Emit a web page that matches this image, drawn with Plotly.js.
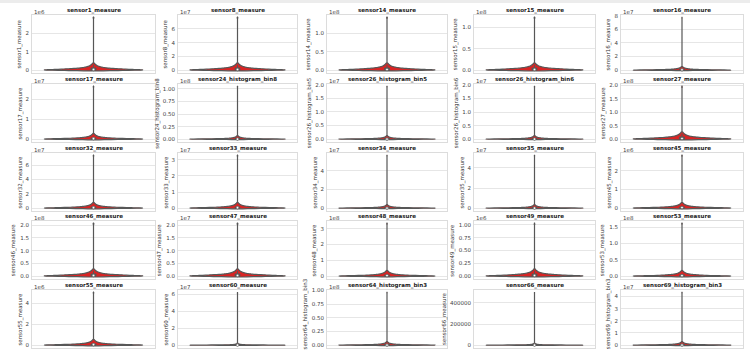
<!DOCTYPE html>
<html><head><meta charset="utf-8">
<script src="https://cdn.plot.ly/plotly-3.0.1.min.js"></script>
<style>html,body{margin:0;padding:0;background:#fff}#chart{width:750px;height:353px}</style>
</head><body><div id="chart"></div>
<script>
// ---------- data (values in units of 10^offsetExponent) ----------
const sensorNames = ['sensor1_measure','sensor8_measure','sensor14_measure','sensor15_measure','sensor16_measure',
  'sensor17_measure','sensor24_histogram_bin8','sensor26_histogram_bin5','sensor26_histogram_bin6','sensor27_measure',
  'sensor32_measure','sensor33_measure','sensor34_measure','sensor35_measure','sensor45_measure',
  'sensor46_measure','sensor47_measure','sensor48_measure','sensor49_measure','sensor53_measure',
  'sensor55_measure','sensor60_measure','sensor64_histogram_bin3','sensor66_measure','sensor69_histogram_bin3'];
const offsetExponents = [6,7,8,8,7, 7,8,7,7,8, 7,7,7,7,6, 8,7,8,6,8, 6,7,8,0,7];
const tickLabels = [
  ['0','1','2'],['0','2','4','6'],['0.0','0.5','1.0'],['0.0','0.5','1.0'],['0','2','4','6','8'],
  ['0','1','2'],['0.00','0.25','0.50','0.75','1.00'],['0.0','0.5','1.0','1.5','2.0'],['0.0','0.5','1.0','1.5','2.0'],['0.0','0.5','1.0','1.5','2.0'],
  ['0','2','4','6'],['0','1','2','3'],['0','2','4'],['0','2','4'],['0','1','2'],
  ['0.0','0.5','1.0','1.5','2.0'],['0.0','0.5','1.0','1.5','2.0'],['0','1','2','3'],['0.00','0.25','0.50','0.75','1.00'],['0.0','0.5','1.0','1.5'],
  ['0','2','4'],['0','2','4','6'],['0.00','0.25','0.50','0.75','1.00'],['0','200000','400000'],['0','1','2','3','4']
];
const maxReadings = [2.82,7.6,1.42,1.22,7.7, 2.62,1.04,1.92,1.93,1.95, 7.3,3.25,5.6,5.2,2.8, 2.05,2.05,3.3,1.02,1.6, 5.0,6.2,0.955,495000,4.3];
const zeroCounts = [100,100,100,100,170, 140,220,220,220,100, 140,140,220,220,140, 100,100,140,100,140, 140,400,220,400,220];
const tailValues = [
  [0.034,0.071,0.113,0.155,0.197,0.24,0.282,0.324,0.367],
  [0.091,0.19,0.304,0.418,0.532,0.646,0.76,0.874,0.988],
  [0.017,0.036,0.057,0.078,0.099,0.121,0.142,0.163,0.185],
  [0.015,0.031,0.049,0.067,0.085,0.104,0.122,0.14,0.159],
  [0.046,0.096,0.154,0.212,0.27,0.327,0.385,0.443,0.5],
  [0.025,0.052,0.084,0.115,0.147,0.178,0.21,0.241,0.272],
  [0.0062,0.013,0.021,0.029,0.036,0.044,0.052,0.06,0.068],
  [0.0115,0.024,0.038,0.053,0.067,0.082,0.096,0.11,0.125],
  [0.0116,0.024,0.039,0.053,0.068,0.082,0.097,0.111,0.125],
  [0.023,0.049,0.078,0.107,0.137,0.166,0.195,0.224,0.254],
  [0.07,0.146,0.234,0.321,0.409,0.496,0.584,0.672,0.759],
  [0.031,0.065,0.104,0.143,0.182,0.221,0.26,0.299,0.338],
  [0.034,0.07,0.112,0.154,0.196,0.238,0.28,0.322,0.364],
  [0.031,0.065,0.104,0.143,0.182,0.221,0.26,0.299,0.338],
  [0.027,0.056,0.09,0.123,0.157,0.19,0.224,0.258,0.291],
  [0.025,0.051,0.082,0.113,0.144,0.174,0.205,0.236,0.267],
  [0.025,0.051,0.082,0.113,0.144,0.174,0.205,0.236,0.267],
  [0.032,0.066,0.106,0.145,0.185,0.224,0.264,0.304,0.343],
  [0.012,0.026,0.041,0.056,0.071,0.087,0.102,0.117,0.133],
  [0.015,0.032,0.051,0.07,0.09,0.109,0.128,0.147,0.166],
  [0.048,0.1,0.16,0.22,0.28,0.34,0.4,0.46,0.52],
  [0.022,0.047,0.074,0.102,0.13,0.158,0.186,0.214,0.242],
  [0.0057,0.012,0.019,0.026,0.033,0.041,0.048,0.055,0.062],
  [1800,3700,5900,8200,10400,12600,14900,17100,19300],
  [0.026,0.054,0.086,0.118,0.151,0.183,0.215,0.247,0.28]
];
const tailCounts = [60,45,26,16,11,7,5,3,2];

// ---------- layout geometry (px) ----------
const W = 750, H = 353;
const colLeft = [32,178,327,474,621], colRight = [155,297,447,595,743];
const rowTop = [15,84,153,221,290], rowH = 58;
const FONT = 'DejaVu Sans';
const LINE = '#575757';

const ctx = document.createElement('canvas').getContext('2d');
ctx.font = '5.5px "DejaVu Sans"';

const traces = [], annotations = [];
const layout = {
  width: W, height: H, margin: {l:0,r:0,t:0,b:0},
  paper_bgcolor: '#fff', plot_bgcolor: '#fff', showlegend: false,
  font: {family: FONT, size: 5.5, color: '#333'},
  shapes: [{type:'rect', xref:'paper', yref:'paper', x0:0, x1:1, y0:1-3/H, y1:1, fillcolor:'#ececec', line:{width:0}, layer:'above'}],
  annotations: annotations
};

sensorNames.forEach((name, i) => {
  const r = Math.floor(i/5), c = i%5;
  const scale = Math.pow(10, offsetExponents[i]);
  const samples = [];
  for (let k = 0; k < zeroCounts[i]; k++) samples.push(0);
  tailValues[i].forEach((v, j) => { for (let k = 0; k < tailCounts[j]; k++) samples.push(v*scale); });
  const top = maxReadings[i]*scale;
  samples.push(top);
  const bw = tailValues[i][0]*scale/1.5;
  const sorted = samples.slice().sort((a,b)=>a-b);
  const med = sorted[Math.floor(sorted.length/2)];
  const id = i === 0 ? '' : String(i+1);

  traces.push({
    type:'violin', x0:0, y:samples, xaxis:'x'+id, yaxis:'y'+id,
    width:0.8, bandwidth:bw, spanmode:'soft', scalemode:'width', points:false,
    fillcolor:'#d92424', line:{color:LINE, width:1.2}, opacity:1,
    box:{visible:true, width:0.05, fillcolor:LINE, line:{color:LINE, width:1}},
    meanline:{visible:false}, hoverinfo:'skip', showlegend:false
  });
  traces.push({
    type:'scatter', mode:'markers', x:[0], y:[med], xaxis:'x'+id, yaxis:'y'+id,
    marker:{color:'#ffffff', size:2.6, line:{color:LINE, width:0.7}},
    hoverinfo:'skip', showlegend:false
  });

  const L = colLeft[c], R = colRight[c], T = rowTop[r], B = T + rowH;
  layout['xaxis'+id] = {
    anchor:'y'+id,
    domain:[L/W, R/W], range:[-0.5,0.5], showticklabels:false, showgrid:false,
    zeroline:false, showline:true, mirror:true, linecolor:'#dcdcdc', linewidth:1, ticks:'', fixedrange:true
  };
  layout['yaxis'+id] = {
    anchor:'x'+id,
    domain:[1-B/H, 1-T/H], range:[-0.055*top, 1.055*top],
    tickvals: tickLabels[i].map(s => parseFloat(s)*scale), ticktext: tickLabels[i],
    tickfont:{family:FONT, size:5.5, color:'#444'}, ticks:'', ticklabelstandoff:1,
    showgrid:true, gridcolor:'#e6e6e6', gridwidth:1, zeroline:false,
    showline:true, mirror:true, linecolor:'#dcdcdc', linewidth:1, fixedrange:true
  };

  annotations.push({xref:'paper', yref:'paper', x:(L+R)/2/W, y:1-(T-4.5)/H, xanchor:'center', yanchor:'middle',
    text:'<b>'+name+'</b>', showarrow:false, font:{family:FONT, size:5.5, color:'#222'}});
  if (offsetExponents[i] !== 0) {
    annotations.push({xref:'paper', yref:'paper', x:L/W, y:1-(T-3)/H, xanchor:'left', yanchor:'middle',
      text:'1e'+offsetExponents[i], showarrow:false, font:{family:FONT, size:5.5, color:'#444'}});
  }
  const lw = Math.max(...tickLabels[i].map(s => ctx.measureText(s).width));
  const tw = ctx.measureText(name).width;
  const yc = Math.min(T + rowH/2, H - 2 - tw/2 - 2);
  annotations.push({xref:'paper', yref:'paper', x:(L-lw-9)/W, y:1-yc/H, xanchor:'center', yanchor:'middle',
    textangle:-90, text:name, showarrow:false, font:{family:FONT, size:5.5, color:'#333'}});
});

Plotly.newPlot('chart', traces, layout, {staticPlot:true, displayModeBar:false});
</script></body></html>
